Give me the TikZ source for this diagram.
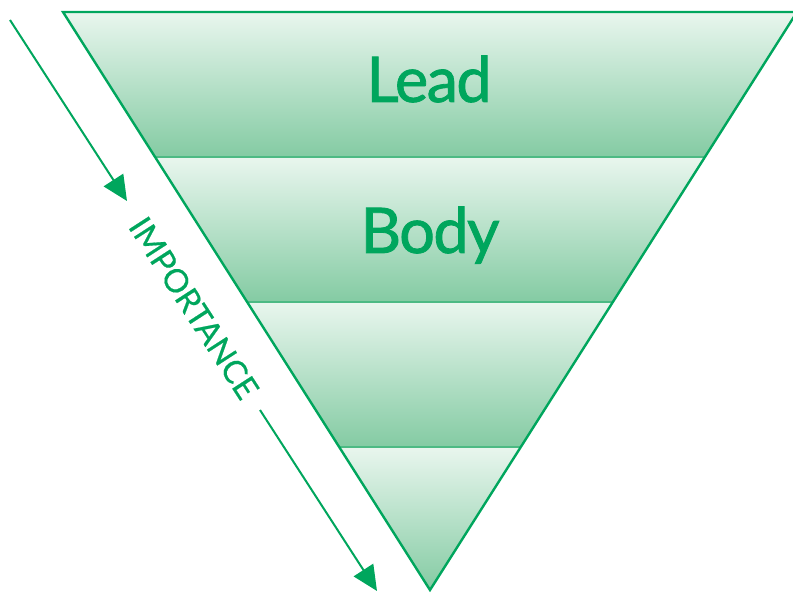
\documentclass[tikz,border=0pt]{standalone}
\usepackage{fontspec}
\setmainfont{Lato}
\newfontfamily\tierfont{Lato}[FakeBold=1.3, LetterSpace=-2.5]
\newfontfamily\axisfont{Lato}[FakeBold=0.5]
\usetikzlibrary{arrows.meta}

\definecolor{pyrgreen}{HTML}{00A65D}
\definecolor{bandtop}{HTML}{E9F6EE}
\definecolor{bandbot}{HTML}{84CBA3}
\definecolor{bandline}{HTML}{4DBA84}

\tikzset{
	band/.style = {top color=bandtop, bottom color=bandbot},
	bandrule/.style = {draw=bandline, line width=1.6pt},
	outline/.style = {draw=pyrgreen, line width=2.4pt},
	tier/.style = {text=pyrgreen, font=\tierfont\fontsize{63}{70}\selectfont, anchor=base},
	axislabel/.style = {text=pyrgreen, font=\axisfont\fontsize{32.5}{34}\selectfont, rotate=-57.1},
	axisarrow/.style = {draw=pyrgreen, line width=2pt, -{Triangle[length=25pt, width=23pt]}}
}

\begin{document}
\begin{tikzpicture}[x=1pt, y=-1pt]
	\useasboundingbox (0,0) rectangle (793,593);
	\def\top{12};
	\def\sl{0.635};

	\foreach \ya/\yb in {12/157, 157/302, 302/447, 447/590}
		\shade[band] ({63+\sl*(\ya-\top)},\ya) -- ({797-\sl*(\ya-\top)},\ya)
			-- ({797-\sl*(\yb-\top)},\yb) -- ({63+\sl*(\yb-\top)},\yb) -- cycle;

	\foreach \y in {157, 302, 447}
		\draw[bandrule] ({63+\sl*(\y-\top)},\y) -- ({797-\sl*(\y-\top)},\y);

	\draw[outline] (63,\top) -- (797,\top) -- (430,590) -- cycle;

	\node[tier] (lead) at (429,102) {Lead};
	\node[tier] (body) at (430,253) {Body};

	\coordinate (upstart) at (10,20);
	\coordinate (uptip) at (127,201);
	\coordinate (lowstart) at (260,410);
	\coordinate (lowtip) at (377,591);

	\node[axislabel] (importance) at (194,308) {IMPORTANCE};

	\draw[axisarrow] (upstart) -- (uptip);
	\draw[axisarrow] (lowstart) -- (lowtip);
\end{tikzpicture}
\end{document}
